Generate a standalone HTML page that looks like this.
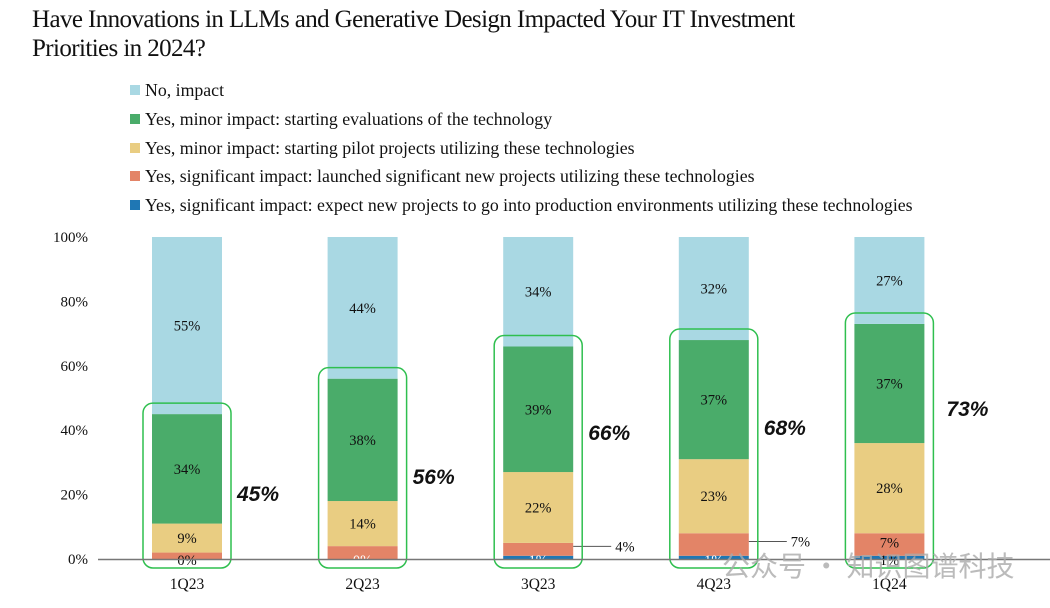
<!DOCTYPE html>
<html><head><meta charset="utf-8">
<style>
body{margin:0;background:#fff;width:1050px;height:608px;overflow:hidden;font-family:"Liberation Serif",serif;}
#title{position:absolute;left:32px;top:5px;font-size:25px;line-height:29px;color:#111;letter-spacing:-0.6px;}
.leg{position:absolute;left:130px;font-size:17.8px;color:#111;white-space:nowrap;}
.leg span{display:inline-block;width:10px;height:10px;margin-right:5px;vertical-align:1px;}
</style></head><body>
<div id="title">Have Innovations in LLMs and Generative Design Impacted Your IT Investment<br>Priorities in 2024?</div>
<div class="leg" style="top:80px"><span style="background:#a9d8e3"></span>No, impact</div>
<div class="leg" style="top:109px"><span style="background:#4aac6a"></span>Yes, minor impact: starting evaluations of the technology</div>
<div class="leg" style="top:138px"><span style="background:#e9cd82"></span>Yes, minor impact: starting pilot projects utilizing these technologies</div>
<div class="leg" style="top:166px"><span style="background:#e38467"></span>Yes, significant impact: launched significant new projects utilizing these technologies</div>
<div class="leg" style="top:195px"><span style="background:#1f77b4"></span>Yes, significant impact: expect new projects to go into production environments utilizing these technologies</div>
<svg id="chart" width="1050" height="608" style="position:absolute;left:0;top:0"></svg>
<script>
const categories=["1Q23","2Q23","3Q23","4Q23","1Q24"];
const production=[0,0,1,1,1];
const launched=[2,4,4,7,7];
const pilot=[9,14,22,23,28];
const evaluations=[34,38,39,37,37];
const noImpact=[55,44,34,32,27];
const totals=["45%","56%","66%","68%","73%"];
const yTicks=[0,20,40,60,80,100];
const NS="http://www.w3.org/2000/svg";
const svg=document.getElementById('chart');
const y=v=>559-v*3.22;
const xc=i=>187+i*175.6;
const bw=70;
function el(t,a,txt){const e=document.createElementNS(NS,t);for(const k in a)e.setAttribute(k,a[k]);if(txt!==undefined)e.textContent=txt;svg.appendChild(e);return e;}
yTicks.forEach(t=>{const e=el('text',{x:88,y:y(t)+5,'text-anchor':'end','font-size':15,fill:'#111'},t+'%');

});
const series=[[production,'#1f77b4','production'],[launched,'#e38467','launched'],[pilot,'#e9cd82','pilot'],[evaluations,'#4aac6a','evaluations'],[noImpact,'#a9d8e3','no-impact']];
const totalY=[493,476,432,427,408];
categories.forEach((c,i)=>{
 let cum=0;
 series.forEach(([arr,col,nm])=>{
  const v=arr[i];const y0=y(cum),y1=y(cum+v);
  if(v>0){const r=el('rect',{x:xc(i)-bw/2,y:y1,width:bw,height:y0-y1,fill:col});
  
  }
  if(nm!=='production'&&nm!=='launched'&&v>0){const t=el('text',{x:xc(i),y:(y0+y1)/2+5,'text-anchor':'middle','font-size':14.5,fill:'#111'},v+'%');
  
  }
  cum+=v;
 });
 const small=production[i]>0?production[i]+'%':'0%';
 const bl=el('text',{x:xc(i),y:565,'text-anchor':'middle','font-size':14.5,fill:(i===1||i===2||i===3)?'#fff':'#111'},small);
 
 
 if(i===4){const t=el('text',{x:xc(i),y:y(production[i]+launched[i]/2)+3,'text-anchor':'middle','font-size':14.5,fill:'#111'},launched[i]+'%');
 
 }
 if(i===2||i===3){const ly=y(production[i]+launched[i]/2)-3;
 el('line',{x1:xc(i)+bw/2,y1:ly,x2:xc(i)+bw/2+38,y2:ly,stroke:'#555','stroke-width':1});
 const t=el('text',{x:xc(i)+bw/2+42,y:ly+5,'font-size':14.5,fill:'#111'},launched[i]+'%');
 
 }
 const stack=production[i]+launched[i]+pilot[i]+evaluations[i];
 const box=el('rect',{x:xc(i)-bw/2-9,y:y(stack)-11,width:bw+18,height:567-y(stack)+11+1,rx:10,fill:'none',stroke:'#2fbf4f','stroke-width':1.5});
 
 
 const tt=el('text',{x:xc(i)+bw/2+15+(i===4?7:0),y:totalY[i]+8,'font-size':21,'font-weight':'bold','font-style':'italic','font-family':'Liberation Sans, sans-serif',fill:'#111'},totals[i]);
 
 
 const xl=el('text',{x:xc(i),y:589,'text-anchor':'middle','font-size':15.5,fill:'#111'},c);
 
 
});
const ax=el('line',{x1:98,y1:559.5,x2:1050,y2:559.5,stroke:'#777','stroke-width':1.5});


const wm=el('text',{x:722,y:576,'font-size':28,fill:'#aaa','fill-opacity':0.8,'font-family':'Noto Sans CJK SC, sans-serif'},'公众号 · 知识图谱科技');


</script>
</body></html>
